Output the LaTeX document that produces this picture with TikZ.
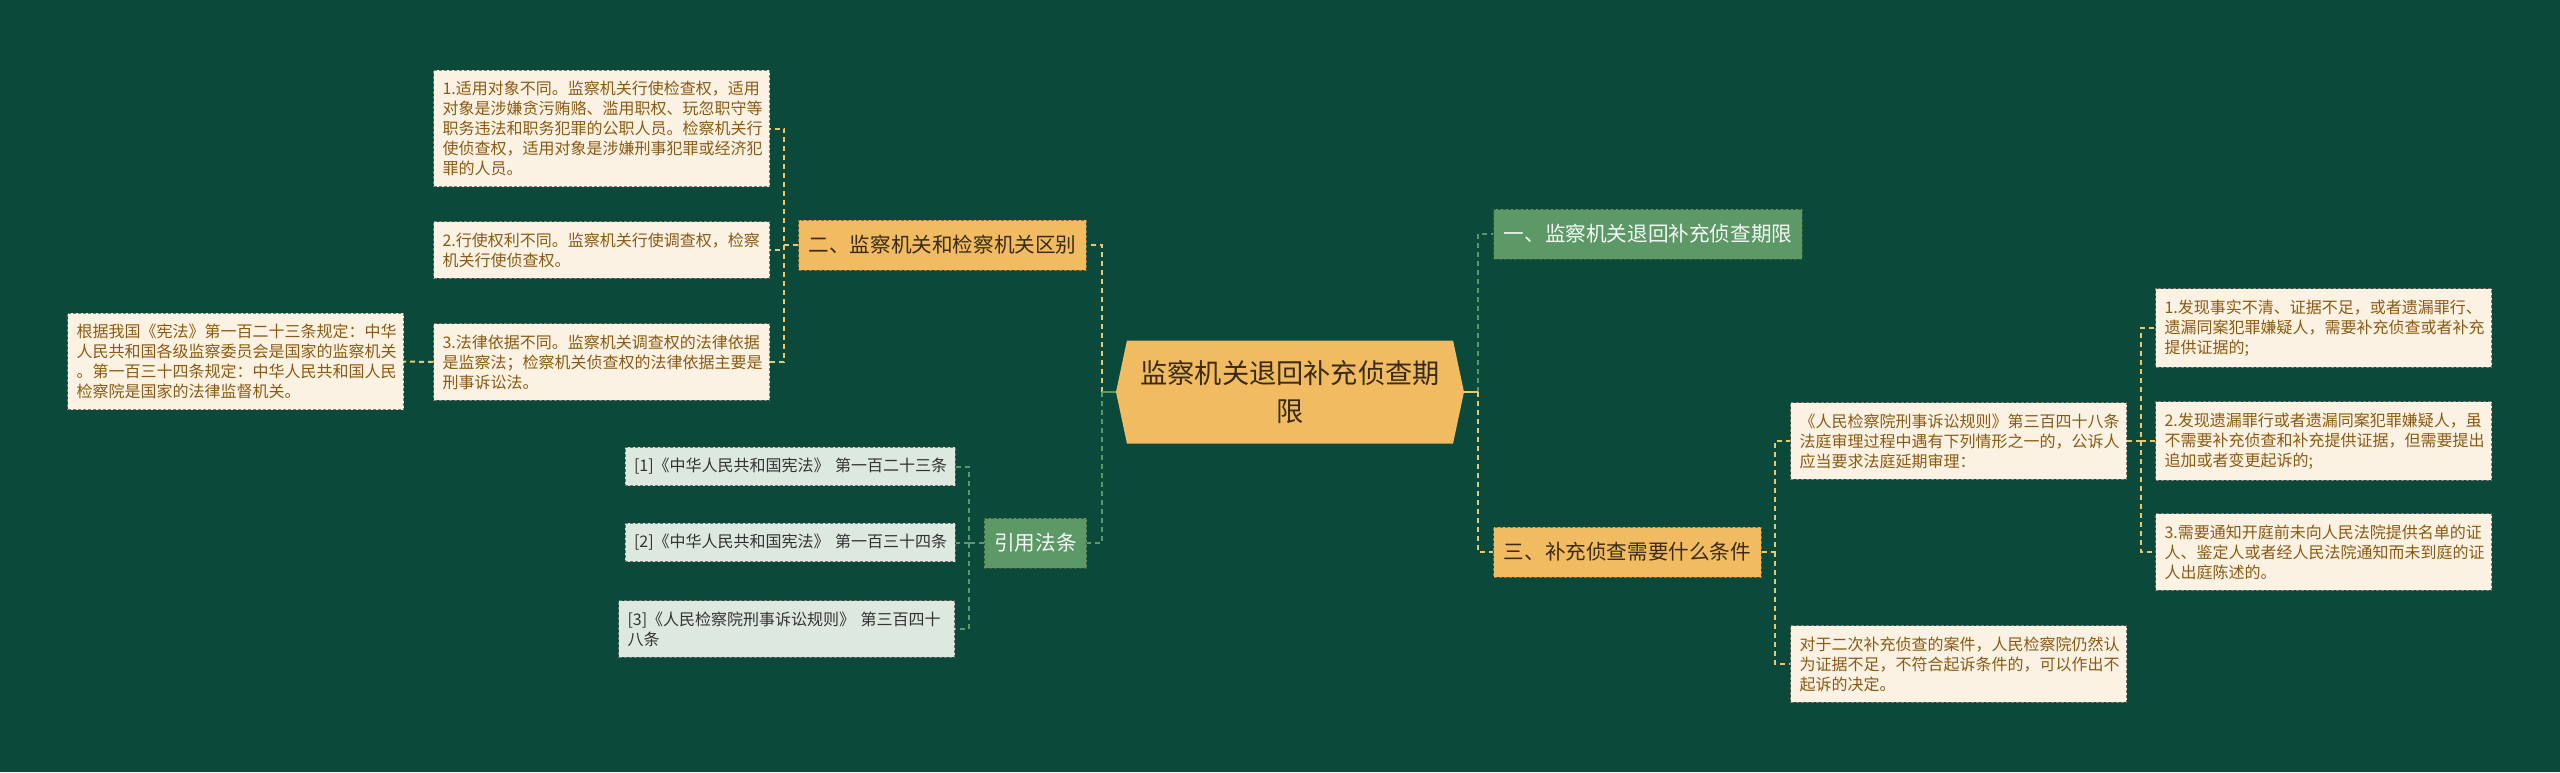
\documentclass[tikz,border=0pt]{standalone}
\usepackage{fontspec}
\setmainfont{Noto Sans CJK SC}
\usetikzlibrary{shapes.symbols}
\definecolor{fondo}{HTML}{0B4A3A}
\definecolor{naranja}{HTML}{F1BB62}
\definecolor{verde}{HTML}{5C9966}
\definecolor{crema}{HTML}{FCF2E3}
\definecolor{marron}{HTML}{8B5A12}
\definecolor{gris}{HTML}{DDE8DF}
\definecolor{tinta}{HTML}{3A2B12}
\definecolor{lineaama}{HTML}{E9C86E}

\begin{document}
\begin{tikzpicture}[x=0.5pt,y=-0.5pt,
  nraiz/.style={signal,signal to=west and east,signal pointer angle=156,fill=naranja,text=tinta,
    align=center,font=\fontsize{13.6}{19}\selectfont,minimum width=174pt,minimum height=51.5pt},
  rama/.style={rectangle,draw,dash pattern=on 1.5pt off 1pt,line width=0.5pt,inner xsep=5pt,
    minimum height=25pt,font=\fontsize{10.3}{12}\selectfont},
  ramaA/.style={rama,fill=naranja,draw=naranja!60!black,text=tinta},
  ramaV/.style={rama,fill=verde,draw=verde!60!black,text=white!94!verde},
  hoja/.style={rectangle,fill=crema,draw=crema!50!black,dash pattern=on 1.5pt off 1pt,line width=0.5pt,
    text=marron,align=left,text width=159pt,inner xsep=4.5pt,inner ysep=5.5pt,
    font=\fontsize{8}{10}\selectfont},
  cita/.style={hoja,fill=gris,draw=gris!50!black,text=black!80,text width=156pt,inner xsep=4.5pt},
  ama/.style={lineaama,line width=1pt,dash pattern=on 2.5pt off 2pt},
  ver/.style={verde,line width=1pt,dash pattern=on 2.5pt off 2pt}]
\useasboundingbox[fill=fondo](0,0) rectangle (2560,772);
\path (1290,392) node(a)[nraiz]{监察机关退回补充侦查期\\限}
(942.5,245) node(b)[ramaA]{二、监察机关和检察机关区别}
(601.5,128.5) node(c)[hoja]{1.适用对象不同。监察机关行使检查权，适用\\
对象是涉嫌贪污贿赂、滥用职权、玩忽职守等\\职务违法和职务犯罪的公职人员。检察机关行\\
使侦查权，适用对象是涉嫌刑事犯罪或经济犯\\罪的人员。}
(601.5,250) node(d)[hoja]{2.行使权利不同。监察机关行使调查权，检察\\机关行使侦查权。}
(601.5,362) node(e)[hoja]{3.法律依据不同。监察机关调查权的法律依据\\
是监察法；检察机关侦查权的法律依据主要是\\刑事诉讼法。}
(235.5,361.5) node(f)[hoja]{根据我国《宪法》第一百二十三条规定：中华\\
人民共和国各级监察委员会是国家的监察机关\\。第一百三十四条规定：中华人民共和国人民\\
检察院是国家的法律监督机关。}
(1035.5,543) node(g)[ramaV]{引用法条}
(790,466.5) node(h)[cita]{[1]《中华人民共和国宪法》~第一百二十三条}
(790,542.5) node(i)[cita]{[2]《中华人民共和国宪法》~第一百三十四条}
(786.5,629) node(j)[cita,text width=159pt]{[3]《人民检察院刑事诉讼规则》 第三百四十\\八条}
(1648,234) node(k)[ramaV]{一、监察机关退回补充侦查期限}
(1627.5,552) node(l)[ramaA]{三、补充侦查需要什么条件}
(1958.5,441) node(m)[hoja]{《人民检察院刑事诉讼规则》第三百四十八条\\
法庭审理过程中遇有下列情形之一的，公诉人\\应当要求法庭延期审理：}
(2323.5,328) node(n)[hoja]{1.发现事实不清、证据不足，或者遗漏罪行、\\
遗漏同案犯罪嫌疑人，需要补充侦查或者补充\\提供证据的;}
(2323.5,441) node(o)[hoja]{2.发现遗漏罪行或者遗漏同案犯罪嫌疑人，虽\\
不需要补充侦查和补充提供证据，但需要提出\\追加或者变更起诉的;}
(2323.5,552) node(p)[hoja]{3.需要通知开庭前未向人民法院提供名单的证\\
人、鉴定人或者经人民法院通知而未到庭的证\\人出庭陈述的。}
(1958.5,664) node(q)[hoja]{对于二次补充侦查的案件，人民检察院仍然认\\
为证据不足，不符合起诉条件的，可以作出不\\起诉的决定。};
% puntos de reparto
\path ([xshift=-7pt]a.west) coordinate(ai) ([xshift=7pt]a.east) coordinate(ad)
([xshift=-7pt]b.west) coordinate(bi) ([xshift=-7.5pt]g.west) coordinate(gi)
([xshift=6.5pt]l.east) coordinate(ld) ([xshift=7pt]m.east) coordinate(md);
\draw[ama](ai)|-(b.east);
\draw[ver](ai)|-(g.east);
\draw[verde,line width=1pt](a.west)--(ai);
\draw[ver](ad)|-(k.west);
\draw[ama](ad)|-(l.west);
\draw[lineaama,line width=1pt](a.east)--(ad);
\draw[ama](b.west)--(bi)|-(c.east);
\draw[ama](bi)|-(d.east);
\draw[ama](bi)|-(e.east);
\draw[ama](e.west)--(f.east);
\draw[ver](g.west)--(gi)|-(h.east);
\draw[ver](gi)|-(i.east);
\draw[ver](gi)|-(j.east);
\draw[ama](l.east)--(ld)|-(m.west);
\draw[ama](ld)|-(q.west);
\draw[ama](m.east)--(md)|-(n.west);
\draw[ama](md)|-(o.west);
\draw[ama](md)|-(p.west);
\end{tikzpicture}
\end{document}
